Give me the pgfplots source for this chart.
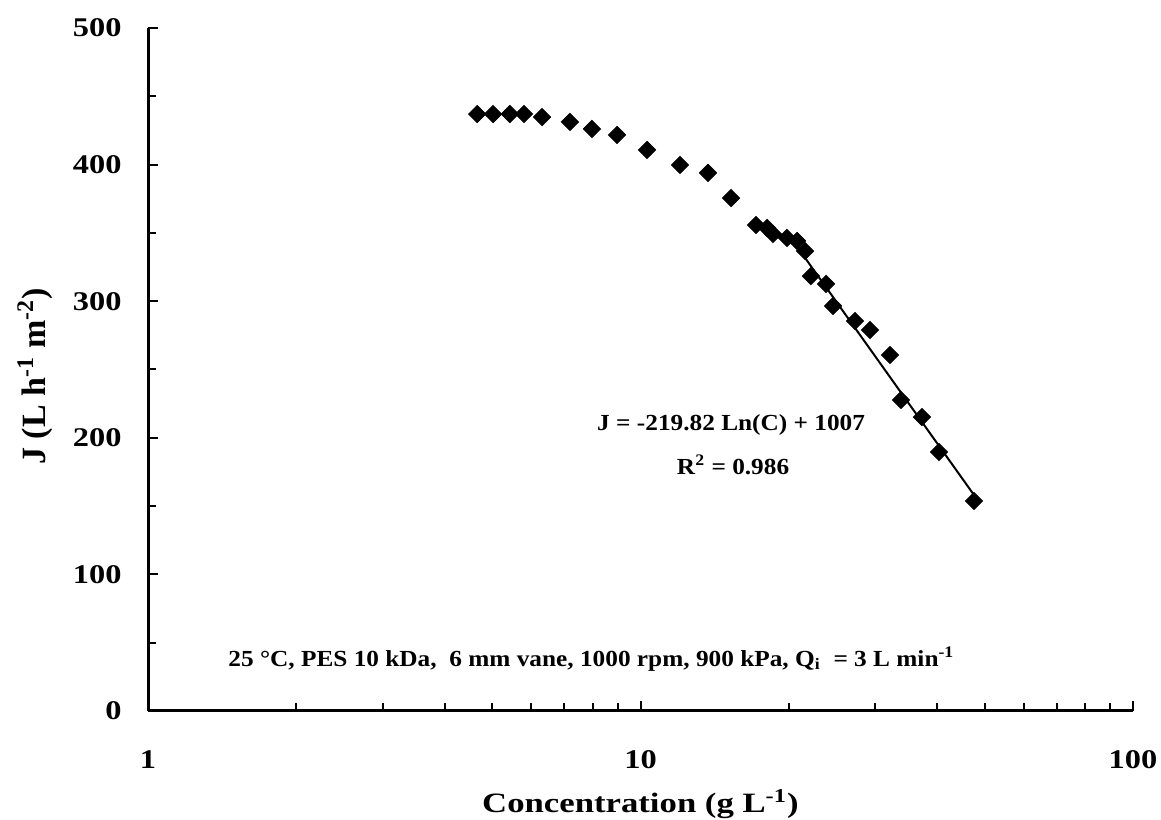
\documentclass[border=0pt]{standalone}
\usepackage{pgfplots}
\pgfplotsset{compat=1.18}
\usepackage{fontspec}
\setmainfont{Liberation Serif}
\begin{document}
\begin{tikzpicture}
\begin{axis}[
  scale only axis, width=492.5bp, height=341.5bp,
  xmode=log, xmin=1, xmax=100, ymin=0, ymax=500,
  axis x line=bottom, axis y line=left,
  axis line style={line width=1.5bp,-},
  xtick={1,10,100}, xticklabels={1,10,100},
  minor xtick={2,3,4,5,6,7,8,9,20,30,40,50,60,70,80,90},
  ytick={0,100,200,300,400,500},
  minor ytick={50,150,250,350,450},
  tick align=inside,
  major tick length=5bp, minor tick length=4bp,
  every tick/.style={black, line width=1bp},
  tick label style={font=\fontsize{13.5bp}{16bp}\selectfont\bfseries, xscale=1.2},
  /pgf/number format/assume math mode=true,
  xticklabel style={anchor=center, yshift=-24.5bp},
  yticklabel style={anchor=east, xshift=-7.5bp},
  xlabel={Concentration (g L\textsuperscript{-1})},
  xlabel style={font=\fontsize{14bp}{17bp}\selectfont\bfseries, xscale=1.24, at={(axis description cs:0.5,-0.136)}, anchor=center},
  ylabel={J (L h\textsuperscript{-1} m\textsuperscript{-2})},
  ylabel style={font=\fontsize{17bp}{20bp}\selectfont\bfseries, at={(axis description cs:-0.1147,0.49)}, anchor=center},
  clip=false,
]
\addplot[only marks, mark=square*, mark size=3.05bp, mark options={rotate=45, fill=black, draw=black}] coordinates {
(4.66,437.0) (5.02,437.0) (5.43,437.0) (5.80,437.0) (6.31,434.8)
(7.19,431.2) (7.97,426.1) (8.96,421.7) (10.31,410.7) (12.03,399.7)
(13.71,393.9) (15.27,375.5) (17.16,355.8) (18.07,353.6) (18.58,349.2)
(19.84,346.3) (20.79,344.1) (21.58,336.7) (22.19,318.4) (23.81,312.6)
(24.60,296.5) (27.26,285.5) (29.24,278.9) (32.10,260.6) (33.80,227.7)
(37.28,215.2) (40.37,189.6) (47.55,153.7)
};
\addplot[black, line width=1bp] coordinates {
(21.58,331.8) (22.19,325.6) (23.81,310.2) (24.60,303.0) (27.26,280.4)
(29.24,265.0) (32.10,244.5) (33.80,233.1) (37.28,211.6) (40.37,194.1)
(47.55,158.1)
};
\node[font=\fontsize{11.5bp}{14bp}\selectfont\bfseries, xscale=1.1, anchor=center] at (axis description cs:0.592,0.419) {J = -219.82 Ln(C) + 1007};
\node[font=\fontsize{11.5bp}{14bp}\selectfont\bfseries, xscale=1.1, anchor=center] at (axis description cs:0.594,0.360) {R\textsuperscript{2} = 0.986};
\node[font=\fontsize{11.5bp}{14bp}\selectfont\bfseries, xscale=1.1, anchor=west, inner sep=0pt] at (axis description cs:0.0812,0.076) {25 °C, PES 10 kDa,~ 6 mm vane, 1000 rpm, 900 kPa, Q\textsubscript{i} ~= 3 L min\textsuperscript{-1}};
\end{axis}
\pgfresetboundingbox
\path ([shift={(-74bp,-54.5bp)}]current axis.south west) rectangle ([shift={(14bp,14bp)}]current axis.north east);
\end{tikzpicture}
\end{document}
